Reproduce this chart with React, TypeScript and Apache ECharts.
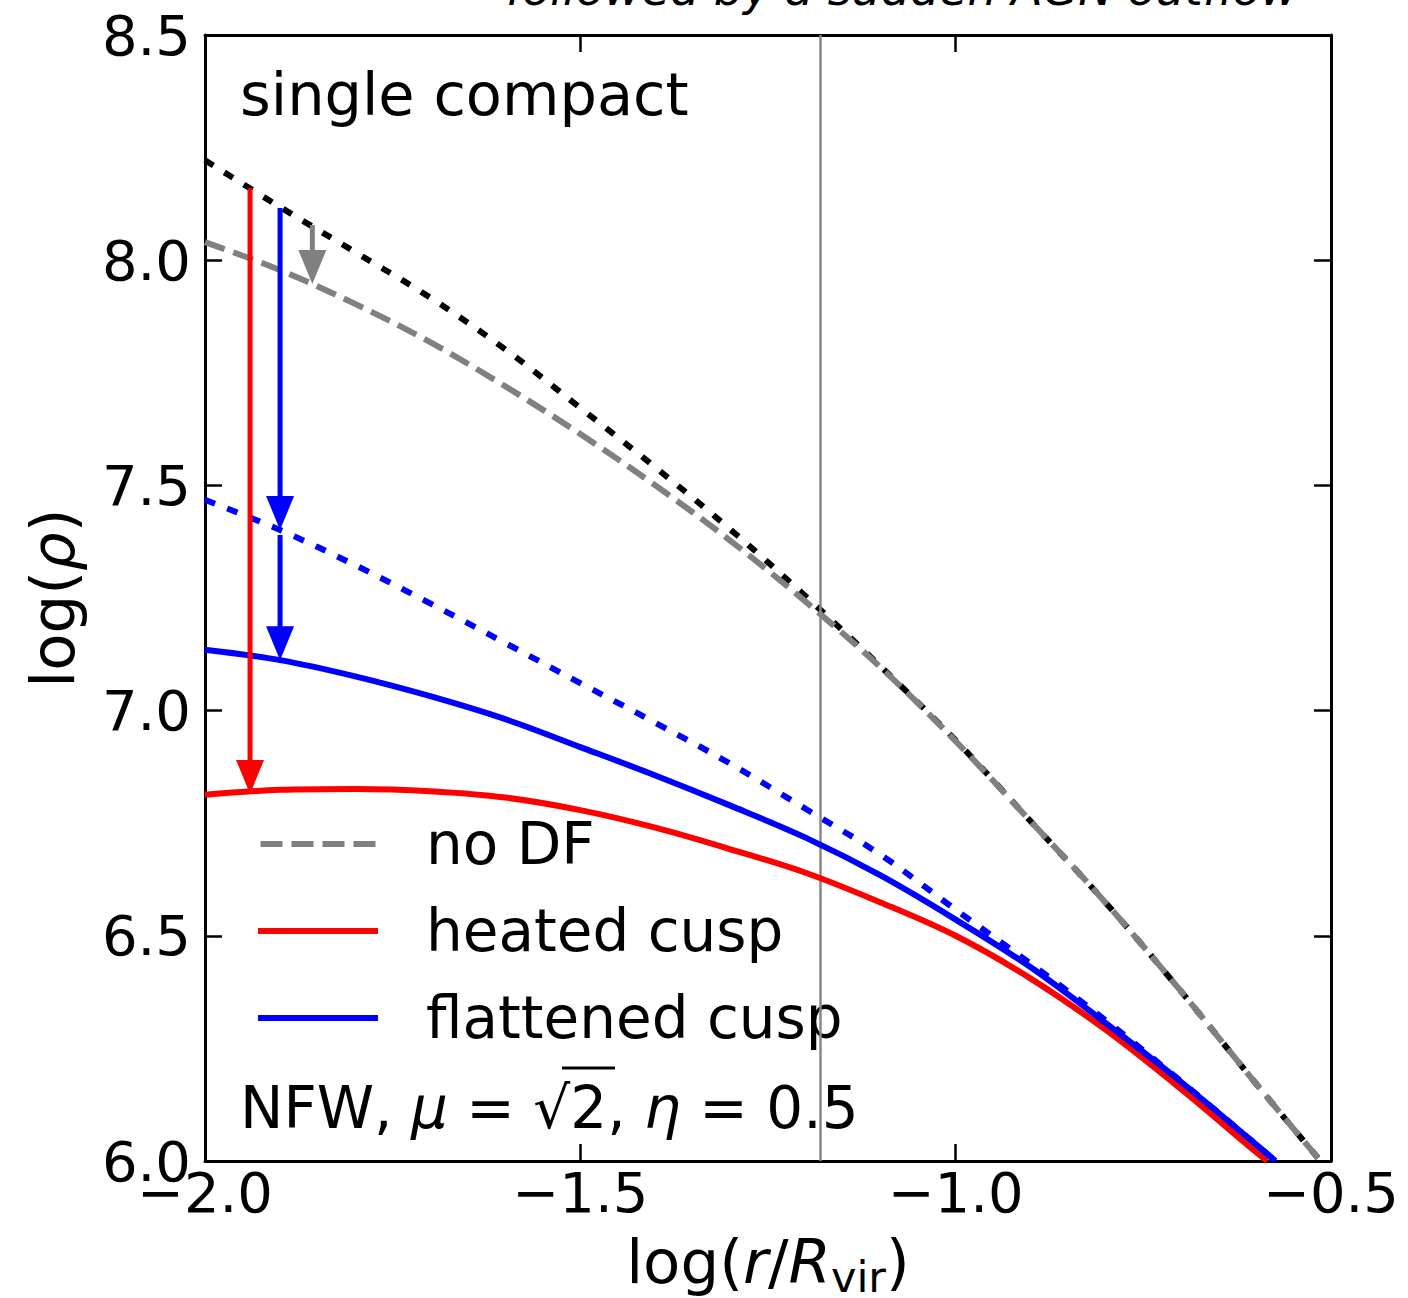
import React, { useEffect, useRef } from "react";
import * as echarts from "echarts";

// ---- data ----
const xTicks = [-2.0, -1.5, -1.0, -0.5];
const yTicks = [6.0, 6.5, 7.0, 7.5, 8.0, 8.5];

// initial NFW profile (black dotted)
const initX = [-2.0, -1.9, -1.8, -1.7, -1.6, -1.5, -1.4, -1.3, -1.2, -1.1, -1.0, -0.9, -0.8, -0.7, -0.6, -0.514];
const initY = [8.222, 8.118, 8.018, 7.917, 7.802, 7.672, 7.54, 7.402, 7.254, 7.098, 6.934, 6.754, 6.573, 6.377, 6.172, 6.0];

// no DF (gray dashed)
const noDfX = [-2.0, -1.9, -1.8, -1.7, -1.6, -1.5, -1.4, -1.3, -1.2, -1.1, -1.0, -0.9, -0.8, -0.7, -0.6, -0.514];
const noDfY = [8.04, 7.978, 7.903, 7.818, 7.72, 7.614, 7.5, 7.377, 7.242, 7.096, 6.932, 6.754, 6.573, 6.377, 6.172, 6.0];

// flattened cusp before outflow (blue dotted)
const flatInitX = [-2.0, -1.9, -1.8, -1.7, -1.6, -1.5, -1.4, -1.3, -1.2, -1.1, -1.0, -0.9, -0.8, -0.7, -0.6, -0.574];
const flatInitY = [7.468, 7.401, 7.323, 7.238, 7.15, 7.061, 6.973, 6.882, 6.782, 6.68, 6.558, 6.438, 6.312, 6.177, 6.037, 6.0];

// flattened cusp (blue solid)
const flatX = [-2.0, -1.9, -1.8, -1.7, -1.6, -1.5, -1.4, -1.3, -1.2, -1.1, -1.0, -0.9, -0.8, -0.7, -0.6, -0.574];
const flatY = [7.135, 7.112, 7.076, 7.032, 6.981, 6.919, 6.856, 6.789, 6.718, 6.634, 6.536, 6.43, 6.306, 6.176, 6.037, 6.0];

// heated cusp (red solid)
const heatX = [-2.0, -1.9, -1.8, -1.7, -1.6, -1.5, -1.4, -1.3, -1.2, -1.1, -1.0, -0.9, -0.8, -0.7, -0.6, -0.585];
const heatY = [6.813, 6.824, 6.826, 6.821, 6.807, 6.779, 6.74, 6.692, 6.64, 6.574, 6.5, 6.405, 6.291, 6.16, 6.02, 6.0];

// arrows: red, blue (1), blue (2), gray
const arrowX = [-1.94, -1.9, -1.9, -1.857];
const arrowFrom = [8.16, 8.116, 7.39, 8.078];
const arrowBase = [6.89, 7.47, 7.18, 8.02];
const arrowTip = [6.815, 7.401, 7.112, 7.947];
const arrowColor = ["#ff0000", "#0000ff", "#0000ff", "#808080"];

// vertical reference line
const vLineX = -1.177;

const FONT = "DejaVu Sans";

const SOLID_ICON = "path://M0,0H120V6H0Z";
const DASH_ICON = "path://M0,0H22V6H0Z M31,0H53V6H31Z M62,0H84V6H62Z M93,0H115V6H93Z";

export default function App() {
  const ref = useRef<HTMLDivElement>(null);
  useEffect(() => {
    const chart = echarts.init(ref.current!, null, { renderer: "svg" });
    const zip = (xs: number[], ys: number[]) => xs.map((x, i) => [x, ys[i]]);
    const fmt = (v: number) => v.toFixed(1).replace("-", "\u2212");

    const line = (width: number) => ({ show: true, onZero: false, lineStyle: { color: "#000", width } });
    const tick = { show: true, inside: true, length: 17, lineStyle: { color: "#000", width: 2.5 } };

    const curve = (name: string, xs: number[], ys: number[], color: string, type: any, width: number, z: number, extra: any = {}) => ({
      name,
      type: "line",
      data: zip(xs, ys),
      symbol: "none",
      showSymbol: false,
      smooth: 0.35,
      z,
      lineStyle: { color, width, type, cap: "butt" },
      itemStyle: { color },
      ...extra,
    });

    const shafts = arrowX.map((x, i) => ({
      name: "arrow" + i,
      type: "line",
      data: [
        [x, arrowFrom[i]],
        [x, arrowBase[i]],
      ],
      symbol: "none",
      z: 10,
      lineStyle: { color: arrowColor[i], width: 5 },
    }));

    chart.setOption({
      animation: false,
      grid: { left: 205, top: 35, width: 1126, height: 1126, containLabel: false, outerBoundsMode: "none" },
      xAxis: [
        {
          type: "value",
          min: -2,
          max: -0.5,
          interval: 0.5,
          position: "bottom",
          axisLine: line(3),
          axisTick: tick,
          splitLine: { show: false },
          axisLabel: { formatter: fmt, fontSize: 56, fontFamily: FONT, color: "#000", margin: 3 },
          name: "log({i|r}/{i|R}{sub|vir})",
          nameLocation: "middle",
          nameGap: 60,
          nameTextStyle: {
            fontSize: 61,
            fontFamily: FONT,
            color: "#000",
            lineHeight: 74,
            rich: {
              i: { fontSize: 61, fontFamily: FONT, fontStyle: "italic", color: "#000", lineHeight: 74 },
              sub: { fontSize: 43, fontFamily: FONT, color: "#000", lineHeight: 48, verticalAlign: "bottom" },
            },
          },
        },
        {
          type: "value",
          min: -2,
          max: -0.5,
          interval: 0.5,
          position: "top",
          axisLine: line(3),
          axisTick: tick,
          splitLine: { show: false },
          axisLabel: { show: false },
        },
      ],
      yAxis: [
        {
          type: "value",
          min: 6,
          max: 8.5,
          interval: 0.5,
          position: "left",
          axisLine: line(3),
          axisTick: tick,
          splitLine: { show: false },
          axisLabel: { formatter: fmt, fontSize: 56, fontFamily: FONT, color: "#000", margin: 14 },
          name: "log({i|ρ})",
          nameLocation: "middle",
          nameGap: 122,
          nameTextStyle: {
            fontSize: 61,
            fontFamily: FONT,
            color: "#000",
            rich: { i: { fontSize: 61, fontFamily: FONT, fontStyle: "italic", color: "#000" } },
          },
        },
        {
          type: "value",
          min: 6,
          max: 8.5,
          interval: 0.5,
          position: "right",
          axisLine: line(3),
          axisTick: tick,
          splitLine: { show: false },
          axisLabel: { show: false },
        },
      ],
      legend: {
        data: [
          { name: "no DF", icon: DASH_ICON },
          { name: "heated cusp", icon: SOLID_ICON },
          { name: "flattened cusp", icon: SOLID_ICON },
        ],
        orient: "vertical",
        left: 253,
        top: 810,
        padding: 5,
        itemWidth: 120,
        itemHeight: 6,
        itemGap: 29,
        selectedMode: false,
        textStyle: { fontSize: 58, fontFamily: FONT, color: "#000", lineHeight: 58, padding: [0, 0, 0, 43] },
      },
      graphic: [
        {
          type: "text",
          x: 240,
          y: 94,
          style: { text: "single compact", fontSize: 59, fontFamily: FONT, fill: "#000", verticalAlign: "middle", align: "left" },
        },
        {
          type: "text",
          x: 240,
          y: 1108,
          style: {
            text: "NFW, {i|μ} = √2, {i|η} = 0.5",
            fontSize: 58,
            fontFamily: FONT,
            fill: "#000",
            verticalAlign: "middle",
            align: "left",
            rich: { i: { fontSize: 58, fontFamily: FONT, fontStyle: "italic", fill: "#000" } },
          },
        },
        {
          type: "line",
          shape: { x1: 562, y1: 1068, x2: 615, y2: 1068 },
          style: { stroke: "#000", lineWidth: 3 },
        },
        {
          type: "text",
          x: 506,
          y: -11,
          style: {
            text: "followed by a sudden AGN outflow",
            fontSize: 46,
            fontFamily: FONT,
            fontStyle: "italic",
            fill: "#000",
            verticalAlign: "middle",
            align: "left",
          },
        },
      ],
      series: [
        curve("initial NFW", initX, initY, "#000000", [10, 13], 6, 2, {
          markLine: {
            silent: true,
            symbol: "none",
            label: { show: false },
            lineStyle: { color: "#888888", width: 2.5, type: "solid" },
            data: [{ xAxis: vLineX }],
          },
        }),
        curve("no DF", noDfX, noDfY, "#808080", [21, 9], 6, 3),
        curve("flattened initial", flatInitX, flatInitY, "#0000ff", [11, 13], 6, 4),
        curve("heated cusp", heatX, heatY, "#ff0000", "solid", 6, 5),
        curve("flattened cusp", flatX, flatY, "#0000ff", "solid", 6, 6),
        ...shafts,
        {
          name: "arrow heads",
          type: "scatter",
          z: 11,
          symbol: "triangle",
          symbolSize: [28, 34],
          symbolRotate: 180,
          symbolOffset: [0, "-50%"],
          itemStyle: { opacity: 1 },
          data: arrowX.map((x, i) => ({ value: [x, arrowTip[i]], itemStyle: { color: arrowColor[i], opacity: 1 } })),
        },
      ],
    });
    return () => chart.dispose();
  }, []);
  return <div ref={ref} style={{ position: "absolute", left: 0, top: 0, width: 1408, height: 1298 }} />;
}
